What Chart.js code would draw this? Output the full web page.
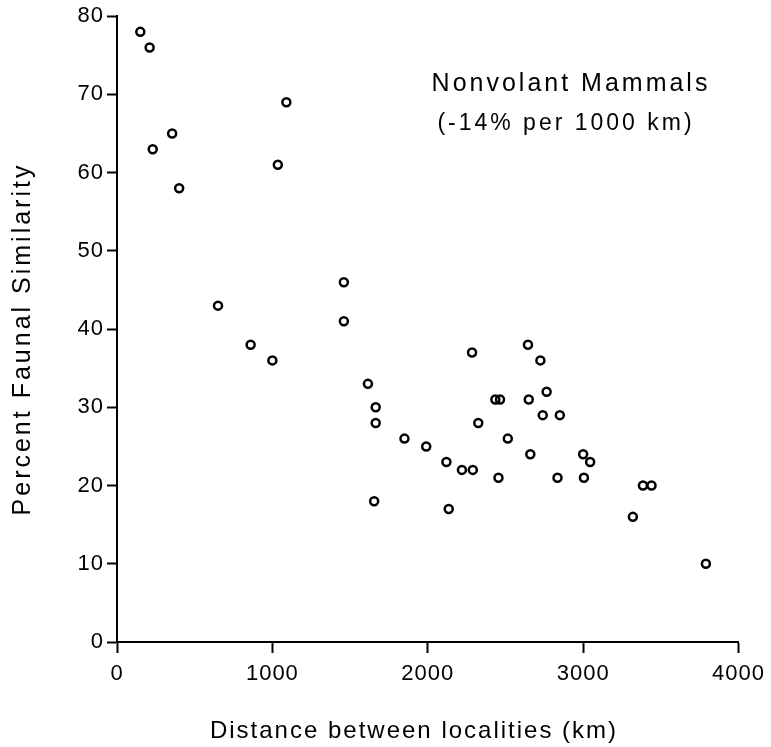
<!DOCTYPE html>
<html>
<head>
<meta charset="utf-8">
<script src="https://cdn.jsdelivr.net/npm/chart.js@4"></script>
<style>
  body { margin: 0; background: #fff; }
  #wrap { width: 771px; height: 747px; }
</style>
</head>
<body>
<div id="wrap"><canvas id="myChart" width="771" height="747"></canvas></div>
<script>
// distance between localities (km) and percent faunal similarity, one entry per pair
const distances = [150, 210, 230, 355, 400, 1090, 1035, 650, 860, 1000,
  1460, 1460, 2285, 2645, 2725, 1615, 1665, 1665, 2765, 2435,
  2465, 2650, 2740, 2850, 2325, 1850, 1990, 2515, 2120, 2220,
  2290, 2660, 2455, 2835, 3000, 3045, 3005, 1655, 2135, 3385,
  3440, 3320, 3790];
const similarity = [78, 76, 63, 65, 58, 69, 61, 43, 38, 36,
  46, 41, 37, 38, 36, 33, 30, 28, 32, 31,
  31, 31, 29, 29, 28, 26, 25, 26, 23, 22,
  22, 24, 21, 21, 24, 23, 21, 18, 17, 20,
  20, 16, 10];

const xTicks = [0, 1000, 2000, 3000, 4000];
const yTicks = [0, 10, 20, 30, 40, 50, 60, 70, 80];

const titleText = 'Nonvolant Mammals';
const subtitleText = '(-14% per 1000 km)';
const xTitle = 'Distance between localities (km)';
const yTitle = 'Percent Faunal Similarity';

const FONT = "'Liberation Sans', Arial, Helvetica, sans-serif";

let points = distances.map(function (d, i) {
  return { x: d, y: similarity[i] };
});

// draws the free text (axis titles, annotation) and sets tracking for tick labels
const textPlugin = {
  id: 'textPlugin',
  beforeDraw: function (chart) {
    chart.ctx.letterSpacing = '1px';
  },
  afterDraw: function (chart) {
    const ctx = chart.ctx;
    ctx.save();
    ctx.fillStyle = '#000';
    ctx.textAlign = 'center';
    ctx.textBaseline = 'middle';

    ctx.letterSpacing = '3px';
    ctx.font = '25px ' + FONT;
    ctx.fillText(titleText, 571, 84);
    ctx.font = '23px ' + FONT;
    ctx.fillText(subtitleText, 566, 124);

    ctx.letterSpacing = '2px';
    ctx.font = '24px ' + FONT;
    ctx.fillText(xTitle, 414, 731);

    ctx.letterSpacing = '3px';
    ctx.font = '25px ' + FONT;
    ctx.translate(23, 339);
    ctx.rotate(-Math.PI / 2);
    ctx.fillText(yTitle, 0, 0);
    ctx.restore();
  }
};

let myChart = document.getElementById('myChart').getContext('2d');

let scatterChart = new Chart(myChart, {
  type: 'scatter',
  data: {
    datasets: [{
      data: points,
      pointStyle: 'circle',
      pointRadius: 4,
      pointHoverRadius: 4,
      borderWidth: 2.5,
      borderColor: '#000',
      backgroundColor: 'rgba(0,0,0,0)'
    }]
  },
  options: {
    responsive: false,
    animation: false,
    layout: {
      padding: { top: 16, right: 28, left: 0, bottom: 0 }
    },
    plugins: {
      legend: { display: false },
      tooltip: { enabled: false }
    },
    scales: {
      x: {
        type: 'linear',
        min: 0,
        max: 4000,
        afterBuildTicks: function (scale) {
          scale.ticks = xTicks.map(function (v) { return { value: v }; });
        },
        afterFit: function (scale) {
          scale.height = 105;
        },
        border: { display: true, color: '#000', width: 2 },
        grid: {
          drawOnChartArea: false,
          drawTicks: true,
          tickLength: 11,
          tickWidth: 2,
          color: '#000'
        },
        ticks: {
          color: '#000',
          padding: 8,
          maxRotation: 0,
          callback: function (v) { return String(v); },
          font: { family: FONT, size: 22 }
        }
      },
      y: {
        type: 'linear',
        min: 0,
        max: 80,
        afterBuildTicks: function (scale) {
          scale.ticks = yTicks.map(function (v) { return { value: v }; });
        },
        afterFit: function (scale) {
          scale.width = 117;
        },
        border: { display: true, color: '#000', width: 2 },
        grid: {
          drawOnChartArea: false,
          drawTicks: true,
          tickLength: 10,
          tickWidth: 2,
          color: '#000'
        },
        ticks: {
          color: '#000',
          padding: 3,
          callback: function (v) { return String(v); },
          font: { family: FONT, size: 22 }
        }
      }
    }
  },
  plugins: [textPlugin]
});
</script>
</body>
</html>
